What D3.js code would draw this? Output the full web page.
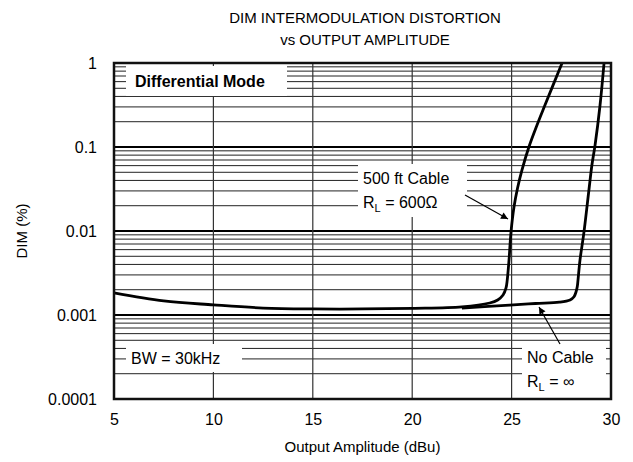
<!DOCTYPE html>
<html>
<head>
<meta charset="utf-8">
<script src="https://cdn.jsdelivr.net/npm/d3@7"></script>
<style>
  body { margin: 0; background: #fff; }
  svg { font-family: "Liberation Sans", Arial, sans-serif; }
</style>
</head>
<body>
<svg id="chart" width="633" height="462"></svg>
<script>
"use strict";

// Axis ticks
var xTicks = [5, 10, 15, 20, 25, 30];
var yTicks = [1, 0.1, 0.01, 0.001, 0.0001];
var yTickLabels = ["1", "0.1", "0.01", "0.001", "0.0001"];

// 500 ft cable, RL = 600 ohm
var cableAmp = [5, 7.5, 10, 12.5, 15, 17.5, 20, 22.5, 23.9, 24.3, 24.57, 24.72, 24.78,
                24.87, 24.97, 25.12, 25.3, 25.52, 25.87, 26.28, 26.68, 27.54];
var cableDim = [0.00183, 0.00147, 0.00132, 0.00121, 0.00118, 0.00118, 0.0012, 0.00125, 0.00139,
                0.00151, 0.00173, 0.0021, 0.0026, 0.0045, 0.0097, 0.0193, 0.0325, 0.053,
                0.1, 0.183, 0.316, 1];

// No cable, RL = infinity
var openAmp = [22.5, 24.9, 26.2, 27.4, 27.94, 28.14, 28.24, 28.3, 28.34, 28.44, 28.64,
               28.89, 29.04, 29.2, 29.45, 29.65];
var openDim = [0.00121, 0.00131, 0.00137, 0.00142, 0.00151, 0.00165, 0.00188, 0.00215,
               0.0026, 0.0045, 0.0097, 0.0308, 0.061, 0.106, 0.316, 1];

var margin = {top: 63, right: 22, bottom: 63, left: 114};
var width = 633 - margin.left - margin.right;
var height = 462 - margin.top - margin.bottom;

var svg = d3.select("#chart");

var x = d3.scaleLinear().domain([5, 30]).range([0, width]);
var y = d3.scaleLog().domain([0.0001, 1]).range([height, 0]);

// Titles
svg.append("text")
    .attr("x", 365).attr("y", 23)
    .attr("text-anchor", "middle")
    .style("font-size", "15px")
    .text("DIM INTERMODULATION DISTORTION");
svg.append("text")
    .attr("x", 365).attr("y", 45)
    .attr("text-anchor", "middle")
    .style("font-size", "15px")
    .text("vs OUTPUT AMPLITUDE");

var g = svg.append("g")
    .attr("transform", "translate(" + margin.left + "," + margin.top + ")");

// Minor log grid (2..9 in every decade)
var minor = [];
for (var d = 0.0001; d < 1; d *= 10) {
    for (var k = 2; k <= 9; k++) minor.push(d * k);
}
g.selectAll("line.minor").data(minor).enter().append("line")
    .attr("class", "minor")
    .attr("x1", 0).attr("x2", width)
    .attr("y1", function(v) { return y(v); })
    .attr("y2", function(v) { return y(v); })
    .attr("stroke", "#222").attr("stroke-width", 1);

// Decade lines are drawn heavier
g.selectAll("line.decade").data(yTicks.slice(1, 4)).enter().append("line")
    .attr("class", "decade")
    .attr("x1", 0).attr("x2", width)
    .attr("y1", function(v) { return y(v); })
    .attr("y2", function(v) { return y(v); })
    .attr("stroke", "#000").attr("stroke-width", 2.2);

g.selectAll("line.vgrid").data(xTicks.slice(1, 5)).enter().append("line")
    .attr("class", "vgrid")
    .attr("x1", function(v) { return x(v); })
    .attr("x2", function(v) { return x(v); })
    .attr("y1", 0).attr("y2", height)
    .attr("stroke", "#333").attr("stroke-width", 1.2);

// Axes, labels only - the frame is drawn separately
var xAxis = g.append("g")
    .attr("transform", "translate(0," + height + ")")
    .call(d3.axisBottom(x).tickValues(xTicks).tickSize(0).tickPadding(15));
var yAxis = g.append("g")
    .call(d3.axisLeft(y).tickValues(yTicks).tickSize(0).tickPadding(17)
        .tickFormat(function(v, i) { return yTickLabels[i]; }));
[xAxis, yAxis].forEach(function(ax) {
    ax.select(".domain").remove();
    ax.selectAll("text")
        .style("font-size", "16px")
        .style("font-family", "'Liberation Sans', Arial, sans-serif")
        .attr("fill", "#000");
});

svg.append("text")
    .attr("x", margin.left + width / 2).attr("y", 452)
    .attr("text-anchor", "middle")
    .style("font-size", "15px")
    .text("Output Amplitude (dBu)");
svg.append("text")
    .attr("transform", "translate(27," + (margin.top + height / 2) + ") rotate(-90)")
    .attr("text-anchor", "middle")
    .style("font-size", "15px")
    .text("DIM (%)");

// White label boxes that blank out the grid
function box(x0, y0, x1, y1) {
    g.append("rect")
        .attr("x", x0 - margin.left).attr("y", y0 - margin.top)
        .attr("width", x1 - x0).attr("height", y1 - y0)
        .attr("fill", "#fff");
}
box(126, 66, 287, 96);
box(358, 164, 467, 217);
box(126, 344, 242, 372);
box(522, 346, 606, 397);

// Curves - centripetal Catmull-Rom copes with the near vertical parts
var line = d3.line()
    .x(function(d) { return x(d[0]); })
    .y(function(d) { return y(d[1]); })
    .curve(d3.curveCatmullRom.alpha(0.5));

g.append("path")
    .datum(d3.zip(cableAmp, cableDim))
    .attr("d", line)
    .attr("fill", "none").attr("stroke", "#000").attr("stroke-width", 2.8);
g.append("path")
    .datum(d3.zip(openAmp, openDim))
    .attr("d", line)
    .attr("fill", "none").attr("stroke", "#000").attr("stroke-width", 2.8);

// Frame
g.append("rect")
    .attr("x", 0).attr("y", 0).attr("width", width).attr("height", height)
    .attr("fill", "none").attr("stroke", "#111").attr("stroke-width", 2.5);

// Annotation text
function label(px, py, parts, bold) {
    var t = svg.append("text")
        .attr("x", px).attr("y", py)
        .style("font-size", "16px")
        .style("font-weight", bold ? "bold" : "normal");
    parts.forEach(function(p) {
        t.append("tspan")
            .attr("dy", p.dy || 0)
            .style("font-size", p.size || null)
            .text(p.text);
    });
}
label(135, 87, [{text: "Differential Mode"}], true);
label(363, 184, [{text: "500 ft Cable"}]);
label(363, 208, [{text: "R"}, {text: "L", dy: 4, size: "11px"}, {text: " = 600\u03A9", dy: -4}]);
label(131, 364, [{text: "BW = 30kHz"}]);
label(527, 363, [{text: "No Cable"}]);
label(527, 387, [{text: "R"}, {text: "L", dy: 4, size: "11px"}, {text: " = \u221E", dy: -4}]);

// Arrows
svg.append("defs").append("marker")
    .attr("id", "head")
    .attr("viewBox", "0 0 10 10")
    .attr("refX", 10).attr("refY", 5)
    .attr("markerWidth", 10).attr("markerHeight", 7)
    .attr("markerUnits", "userSpaceOnUse")
    .attr("orient", "auto")
    .append("path").attr("d", "M0,0 L10,5 L0,10 Z").attr("fill", "#000");
[[465, 195, 508, 219], [560, 344, 539, 307]].forEach(function(a) {
    svg.append("line")
        .attr("x1", a[0]).attr("y1", a[1]).attr("x2", a[2]).attr("y2", a[3])
        .attr("stroke", "#000").attr("stroke-width", 1.2)
        .attr("marker-end", "url(#head)");
});
</script>
</body>
</html>
